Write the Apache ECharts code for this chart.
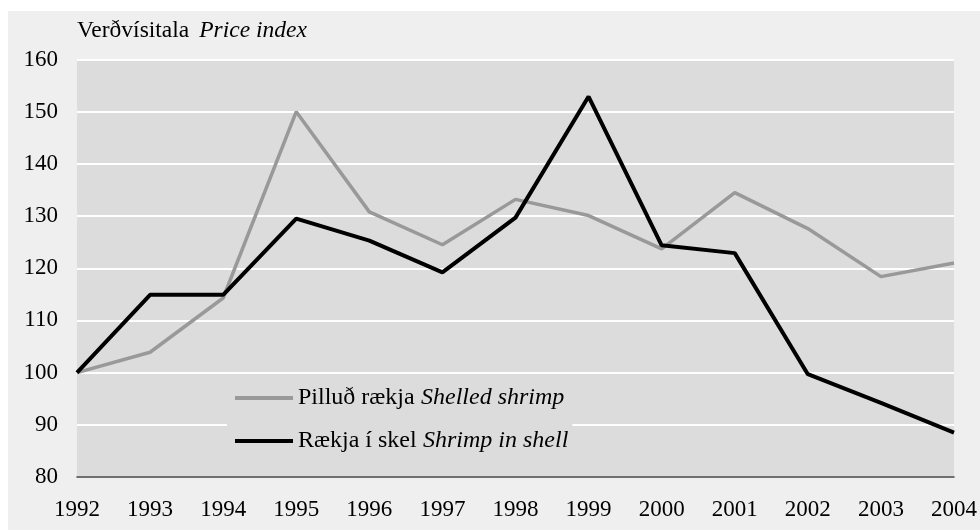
<!DOCTYPE html>
<html>
<head>
<meta charset="utf-8">
<script src="https://cdn.jsdelivr.net/npm/echarts@6/dist/echarts.min.js"></script>
<style>
html,body{margin:0;padding:0;background:#ffffff;}
#chart{width:980px;height:530px;}
</style>
</head>
<body>
<div id="chart"></div>
<script>
const years = ['1992','1993','1994','1995','1996','1997','1998','1999','2000','2001','2002','2003','2004'];
const shelledShrimp = [100, 103.9, 114.3, 150.0, 130.8, 124.5, 133.2, 130.1, 123.7, 134.5, 127.6, 118.4, 121.0];
const shrimpInShell = [100, 114.9, 114.9, 129.5, 125.3, 119.2, 129.7, 152.9, 124.4, 122.9, 99.7, 94.2, 88.5];
const seriesNames = ['Pilluð rækja|Shelled shrimp', 'Rækja í skel|Shrimp in shell'];
const axisTitle = ['Verðvísitala', 'Price index'];

const FONT = "'Liberation Serif', 'Times New Roman', serif";
const chart = echarts.init(document.getElementById('chart'), null, {renderer: 'canvas'});
chart.setOption({
  animation: false,
  backgroundColor: '#ffffff',
  graphic: [{
    type: 'rect', z: -10, silent: true,
    shape: {x: 8, y: 11, width: 972, height: 519},
    style: {fill: '#efefef'}
  }],
  title: {
    text: '{n|' + axisTitle[0] + '}  {i|' + axisTitle[1] + '}',
    left: 77, top: 19, padding: 0,
    textStyle: {
      fontWeight: 'normal',
      rich: {
        n: {fontFamily: FONT, fontSize: 23.5, fontWeight: 'normal', color: '#000'},
        i: {fontFamily: FONT, fontSize: 23.5, fontWeight: 'normal', fontStyle: 'italic', color: '#000'}
      }
    }
  },
  grid: {
    left: 77, right: 23, top: 59.5, bottom: 53,
    show: true, backgroundColor: '#dcdcdc', borderWidth: 0,
    containLabel: false
  },
  legend: {
    orient: 'vertical',
    left: 227, top: 376,
    padding: [10, 4, 12, 8],
    backgroundColor: '#dcdcdc',
    itemWidth: 58, itemHeight: 4, itemGap: 19,
    icon: 'rect',
    data: seriesNames,
    formatter: function (name) {
      const p = name.split('|');
      return '{n|' + p[0] + '} {i|' + p[1] + '}';
    },
    textStyle: {
      rich: {
        n: {fontFamily: FONT, fontSize: 24, lineHeight: 22, color: '#000', padding: [0, 3, 0, 0]},
        i: {fontFamily: FONT, fontSize: 24, lineHeight: 22, fontStyle: 'italic', color: '#000'}
      }
    }
  },
  xAxis: {
    type: 'category',
    data: years,
    boundaryGap: false,
    axisLine: {show: true, lineStyle: {color: '#404040', width: 1.5}},
    axisTick: {show: false},
    axisLabel: {fontFamily: FONT, fontSize: 23, color: '#000', margin: 21, interval: 0},
    splitLine: {show: false}
  },
  yAxis: {
    type: 'value',
    min: 80, max: 160, interval: 10,
    axisLine: {show: false},
    axisTick: {show: false},
    axisLabel: {fontFamily: FONT, fontSize: 23, color: '#000', margin: 19},
    splitLine: {show: true, lineStyle: {color: '#ffffff', width: 2}}
  },
  series: [
    {
      name: seriesNames[0], type: 'line', data: shelledShrimp,
      symbol: 'none', color: '#999999',
      lineStyle: {color: '#999999', width: 3.5}
    },
    {
      name: seriesNames[1], type: 'line', data: shrimpInShell,
      symbol: 'none', color: '#000000',
      lineStyle: {color: '#000000', width: 4}
    }
  ]
});
</script>
</body>
</html>
